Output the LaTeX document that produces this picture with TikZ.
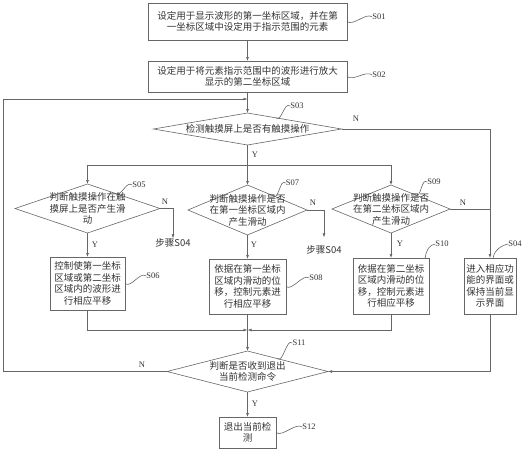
\documentclass[tikz,border=0pt]{standalone}
\usepackage{fontspec}
\setmainfont{Liberation Serif}
\newfontfamily\cjk{Noto Sans CJK SC}
\usetikzlibrary{shapes.geometric,arrows.meta,calc}

\tikzset{box:style/.style={draw=black!60,line width=0.6pt,inner sep=0pt,outer sep=0pt,align=center,text=black!80,font=\cjk\fontsize{9.5}{11.5}\selectfont}}
\tikzset{dec:style/.style={draw=black!60,line width=0.6pt,shape=diamond,inner sep=0pt,outer sep=0pt}}
\tikzset{text:style/.style={inner sep=0pt,align=center,text=black!80,font=\cjk\fontsize{9.5}{11.5}\selectfont}}
\tikzset{edge:style/.style={draw=black!60,line width=0.6pt,-{Latex[length=4pt,width=3pt]}}}
\tikzset{line:style/.style={draw=black!60,line width=0.6pt}}
\tikzset{tag:style/.style={inner sep=0pt,text=black!80,font=\fontsize{8.5}{8.5}\selectfont}}
\def\squig#1#2{\path[line:style] (#1) .. controls +(6,5) and +(-6,-5) .. (#2);}
\def\colX{247.5}

\begin{document}
\begin{tikzpicture}[x=1pt,y=-1pt]
	\useasboundingbox (0,0) rectangle (524,450);
	
	% main column and side columns
	\path
		(\colX,21.5) coordinate (c01)
		(\colX,76.5) coordinate (c02)
		(\colX,129) coordinate (c03)
		(87.5,208.5) coordinate (c05)
		(\colX,210) coordinate (c07)
		(391,209) coordinate (c09)
		(87.5,283.5) coordinate (c06)
		(\colX,286.5) coordinate (c08)
		(391,286) coordinate (c10)
		(490,286) coordinate (c04)
		(\colX,371.5) coordinate (c11)
		(\colX,432.5) coordinate (c12);
	
	\path (c01) node[box:style,minimum width=199pt,minimum height=37pt] (s01) {设定用于显示波形的第一坐标区域，并在第\\一坐标区域中设定用于指示范围的元素};
	\path (c02) node[box:style,minimum width=199pt,minimum height=31pt] (s02) {设定用于将元素指示范围中的波形进行放大\\显示的第二坐标区域};
	
	\path (c03) node[dec:style,minimum width=188pt,minimum height=32pt] (s03) {};
	\path (c03) node[text:style] (s03txt) {检测触摸屏上是否有触摸操作};
	\path (c05) node[dec:style,minimum width=145pt,minimum height=49pt] (s05) {};
	\path (c05) node[text:style] (s05txt) {判断触摸操作在触\\摸屏上是否产生滑\\动};
	\path (c07) node[dec:style,minimum width=119pt,minimum height=50pt] (s07) {};
	\path (c07) node[text:style] (s07txt) {判断触摸操作是否\\在第一坐标区域内\\产生滑动};
	\path (c09) node[dec:style,minimum width=118pt,minimum height=48pt] (s09) {};
	\path (c09) node[text:style] (s09txt) {判断触摸操作是否\\在第二坐标区域内\\产生滑动};
	
	\path (c06) node[box:style,minimum width=75pt,minimum height=53pt] (s06) {控制使第一坐标\\区域或第二坐标\\区域内的波形进\\行相应平移};
	\path (c08) node[box:style,minimum width=77pt,minimum height=55pt] (s08) {依据在第一坐标\\区域内滑动的位\\移，控制元素进\\行相应平移};
	\path (c10) node[box:style,minimum width=76pt,minimum height=56pt] (s10) {依据在第二坐标\\区域内滑动的位\\移，控制元素进\\行相应平移};
	\path (c04) node[box:style,minimum width=52pt,minimum height=56pt] (s04) {进入相应功\\能的界面或\\保持当前显\\示界面};
	
	\path (c11) node[dec:style,minimum width=161pt,minimum height=41pt] (s11) {};
	\path (c11) node[text:style] (s11txt) {判断是否收到退出\\当前检测命令};
	\path (c12) node[box:style,minimum width=57pt,minimum height=31pt] (s12) {退出当前检\\测};
	
	\path (173,243) node[text:style] (go1) {步骤S04};
	\path (324,250) node[text:style] (go2) {步骤S04};
	
	% helper points
	\path
		(\colX,165) coordinate (split)
		(\colX,330) coordinate (merge)
		(3,371.5) coordinate (loopA)
		(3,99) coordinate (loopB)
		(\colX,99) coordinate (loopC);
	
	% connectors
	\path[edge:style] (s01) -- (s02);
	\path[edge:style] (s02) -- (s03);
	\path[edge:style] (s03.south) -- (s07.north);
	\path[edge:style] (split) -| (s05.north);
	\path[edge:style] (split) -| (s09.north);
	\path[edge:style] (s03.east) -| (s04.north);
	\path[edge:style] (s05.east) -| (go1.north);
	\path[edge:style,shorten >=8pt] (s07.east) -| (go2.north);
	\path[line:style] (s09.east) -- (s09.east -| s04.north);
	\path[edge:style] (s05) -- (s06);
	\path[edge:style] (s07) -- (s08);
	\path[edge:style] (s09) -- (s10);
	\path[edge:style] (s06.south) |- (merge);
	\path[edge:style] (s10.south) |- (merge);
	\path[edge:style] (s08.south) -- (s11.north);
	\path[edge:style] (s04.south) |- (s11.east);
	\path[edge:style] (s11.west) -- (loopA) -- (loopB) -- (loopC);
	\path[edge:style] (s11) -- (s12);
	
	% Y / N
	\path (356,119) node[tag:style] (n03) {N};
	\path (255,155) node[tag:style] (y03) {Y};
	\path (165,202) node[tag:style] (n05) {N};
	\path (95,245) node[tag:style] (y05) {Y};
	\path (313,203) node[tag:style] (n07) {N};
	\path (254,245) node[tag:style] (y07) {Y};
	\path (463,203) node[tag:style] (n09) {N};
	\path (400,244) node[tag:style] (y09) {Y};
	\path (142,365) node[tag:style] (n11) {N};
	\path (255,404) node[tag:style] (y11) {Y};
	
	% step tags
	\path (379,17) node[tag:style] (t01) {S01};
	\path (379,75) node[tag:style] (t02) {S02};
	\path (297,106) node[tag:style] (t03) {S03};
	\path (139,185) node[tag:style] (t05) {S05};
	\path (292.5,183) node[tag:style] (t07) {S07};
	\path (434,182) node[tag:style] (t09) {S09};
	\path (153,276) node[tag:style] (t06) {S06};
	\path (316,278) node[tag:style] (t08) {S08};
	\path (442,244) node[tag:style] (t10) {S10};
	\path (515,244) node[tag:style] (t04) {S04};
	\path (299,343) node[tag:style] (t11) {S11};
	\path (309,427) node[tag:style] (t12) {S12};
	
	\squig{s01.east}{t01.west}
	\squig{s02.east}{t02.west}
	\squig{$(s03.north)!0.3!(s03.east)$}{t03.west}
	\squig{$(s05.north)!0.38!(s05.east)$}{t05.west}
	\squig{$(s07.north)!0.43!(s07.east)$}{t07.west}
	\squig{$(s09.north)!0.41!(s09.east)$}{t09.west}
	\squig{s06.east}{t06.west}
	\squig{s08.east}{t08.west}
	\squig{$(s11.north)!0.37!(s11.east)$}{t11.west}
	\squig{s12.east}{t12.west}
	\path[line:style] ($(s10.north)!0.9!(s10.north east)$) .. controls +(1,-8) and +(-6,1) .. (t10.west);
	\path[line:style] ($(s04.north)!0.12!(s04.north east)$) .. controls +(1,-8) and +(-6,1) .. (t04.west);
	
\end{tikzpicture}
\end{document}
